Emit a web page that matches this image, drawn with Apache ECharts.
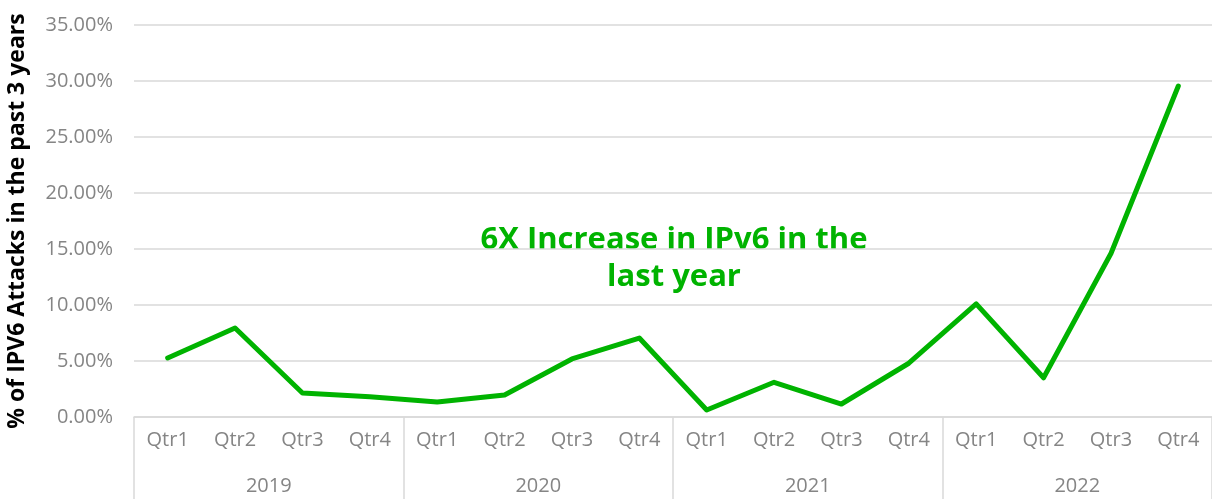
<!DOCTYPE html>
<html>
<head>
<meta charset="utf-8">
<style>
  html, body { margin: 0; padding: 0; background: #fff; }
  #main { width: 1212px; height: 499px; }
</style>
<script src="https://cdn.jsdelivr.net/npm/echarts@6/dist/echarts.min.js"></script>
</head>
<body>
<div id="main"></div>
<script>
const quarters = ["Qtr1", "Qtr2", "Qtr3", "Qtr4", "Qtr1", "Qtr2", "Qtr3", "Qtr4",
  "Qtr1", "Qtr2", "Qtr3", "Qtr4", "Qtr1", "Qtr2", "Qtr3", "Qtr4"];
const years = ["2019", "2020", "2021", "2022"];
const ipv6Share = [5.27, 7.95, 2.14, 1.8, 1.34, 1.96, 5.18, 7.05,
  0.63, 3.1, 1.16, 4.8, 10.1, 3.5, 14.6, 29.55];
const annotation = "6X Increase in IPv6 in the\nlast year";

const font = "'Open Sans', 'Noto Sans', sans-serif";
const chart = echarts.init(document.getElementById("main"));

let option = {
  animation: false,
  grid: { left: 134, right: 0, top: 25, bottom: 82, outerBoundsMode: "none" },
  xAxis: [
    {
      type: "category",
      data: quarters,
      position: "bottom",
      axisLine: { show: false },
      axisTick: { show: false },
      axisLabel: { color: "#858585", fontSize: 20, fontFamily: font, margin: 13 },
    },
    {
      type: "category",
      data: years,
      position: "bottom",
      axisLine: { lineStyle: { color: "#d9d9d9", width: 1.5 } },
      axisTick: { show: true, length: 84, lineStyle: { color: "#d9d9d9", width: 1.5 } },
      axisLabel: { color: "#858585", fontSize: 20, fontFamily: font, margin: 59 },
    },
  ],
  yAxis: {
    type: "value",
    min: 0,
    max: 35,
    interval: 5,
    name: "% of IPV6 Attacks in the past 3 years",
    nameLocation: "middle",
    nameGap: 105,
    nameTextStyle: { color: "#000", fontSize: 23, fontWeight: "bold", fontFamily: font },
    axisLine: { show: false },
    axisTick: { show: false },
    axisLabel: {
      color: "#858585",
      fontSize: 20,
      fontFamily: font,
      margin: 21,
      formatter: (v) => v.toFixed(2) + "%",
    },
    splitLine: { lineStyle: { color: "#d9d9d9", width: 1.5 } },
  },
  graphic: [
    {
      type: "text",
      x: 674,
      y: 222,
      style: {
        text: annotation,
        fill: "#00b300",
        font: "bold 31px " + font,
        textAlign: "center",
        lineHeight: 37,
      },
    },
  ],
  series: [
    {
      type: "line",
      xAxisIndex: 0,
      data: ipv6Share,
      symbol: "none",
      lineStyle: { color: "#00b300", width: 5, join: "round", cap: "round" },
    },
  ],
};
option && chart.setOption(option);
</script>
</body>
</html>
